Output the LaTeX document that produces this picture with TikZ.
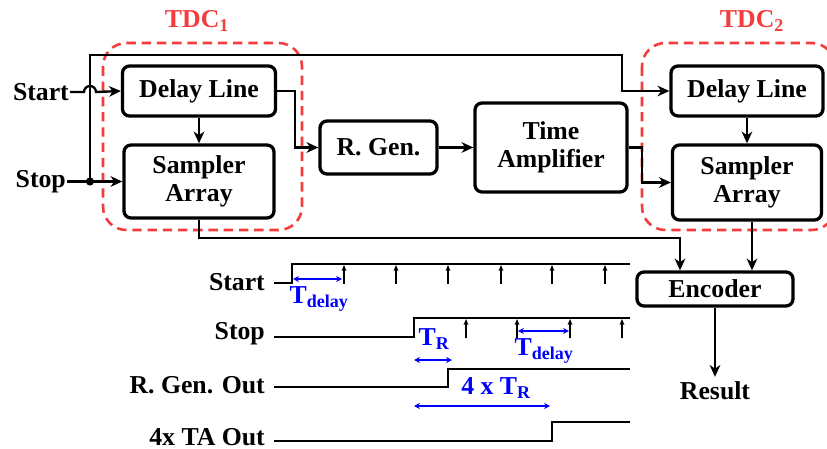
\documentclass[tikz,border=0pt]{standalone}
\usepackage{fontspec}
\setmainfont{Liberation Serif}
\usetikzlibrary{arrows.meta}
\definecolor{tdcred}{RGB}{245,60,60}
\begin{document}
\begin{tikzpicture}[x=0.03cm, y=-0.03cm, line width=2pt,
  >={Stealth[length=10pt,width=9pt,inset=3pt]},
  every node/.style={font=\fontsize{22}{24}\selectfont\bfseries},
  blk/.style={draw, line width=2.8pt, rounded corners=6pt, align=center, inner sep=0pt},
  tdcbox/.style={draw=tdcred, line width=2.2pt, dash pattern=on 8pt off 5pt, rounded corners=20pt},
  wave/.style={line width=1pt},
  tick/.style={line width=1pt, -{Stealth[length=5pt,width=4pt,inset=1pt]}},
  span/.style={blue, line width=1pt, {Stealth[length=5pt,width=5pt]}-{Stealth[length=5pt,width=5pt]}},
  blu/.style={text=blue, inner sep=0pt}]
\useasboundingbox (0,0) rectangle (827,449);
% TDC frames
\draw[tdcbox] (103,43) rectangle (302,230);
\draw[tdcbox] (642,43) rectangle (835,230);
\node[text=tdcred] (tdc1) at (197,21) {TDC\textsubscript{1}};
\node[text=tdcred] (tdc2) at (752,21) {TDC\textsubscript{2}};
% blocks
\node[blk,minimum width=4.59cm,minimum height=1.5cm] (dl1) at (199,91) {Delay Line};
\node[blk,minimum width=4.5cm,minimum height=2.19cm] (sa1) at (199,181.5) {Sampler\\Array};
\node[blk,minimum width=3.51cm,minimum height=1.59cm] (rgen) at (378.5,147.5) {R. Gen.};
\node[blk,minimum width=4.56cm,minimum height=2.67cm] (ta) at (551,147.5) {Time\\Amplifier};
\node[blk,minimum width=4.56cm,minimum height=1.5cm] (dl2) at (747,91) {Delay Line};
\node[blk,minimum width=4.47cm,minimum height=2.25cm] (sa2) at (747,182.5) {Sampler\\Array};
\node[blk,minimum width=4.68cm,minimum height=1.02cm] (enc) at (715,289) {Encoder};
\node (result) at (715,391) {Result};
\node[anchor=east,inner sep=0pt] (instart) at (70,92) {Start};
\node[anchor=east,inner sep=0pt] (instop) at (67,181.5) {Stop};
\coordinate (jn) at (90,181.5);
% connections
\draw[->] (instart.east) -- (84,92) arc[start angle=180,end angle=360,radius=6] -- (dl1.west);
\draw[->] (instop.east) -- (sa1.west);
\fill (jn) circle[radius=3.5pt];
\draw[->] (jn) -- (90,55) -- (622,55) |- (dl2.west);
\draw[->] (dl1.east) -- (295,91) |- (rgen.west);
\draw[->] (rgen) -- (ta);
\draw[->] (ta.east) -- (642,147.5) |- (sa2.west);
\draw[->] (dl1) -- (sa1);
\draw[->] (dl2) -- (sa2);
\draw[->] (sa1.south) -- (199,238) -| ([xshift=-1.05cm]enc.north);
\draw[->] ([xshift=0.15cm]sa2.south) -- ([xshift=0.15cm]sa2.south |- enc.north);
\draw[->] (enc) -- (result);
% timing diagram
\node[anchor=east,inner sep=0pt] (tstart) at (266,282) {Start};
\node[anchor=east,inner sep=0pt] (tstop) at (266,334) {Stop};
\node[anchor=east,inner sep=0pt] (trgen) at (266,385) {R. Gen. Out};
\node[anchor=east,inner sep=0pt] (tta) at (266,437) {4x TA Out};
\draw[wave] (274,283) -- (292,283) -- (292,264) -- (630,264);
\draw[wave] (274,337) -- (414,337) -- (414,318) -- (630,318);
\draw[wave] (274,387) -- (448,387) -- (448,369) -- (630,369);
\draw[wave] (274,441) -- (552,441) -- (552,422) -- (630,422);
\foreach \x in {344,396,448,501,552,605} \draw[tick] (\x,284) -- (\x,265);
\foreach \x in {466,517,570,622} \draw[tick] (\x,338) -- (\x,319);
\draw[span] (293,279) -- (342,279);
\draw[span] (518,331) -- (569,331);
\draw[span] (414,360) -- (452,360);
\draw[span] (414,406) -- (550,406);
\node[blu] (td1) at (319,299) {T\textsubscript{delay}};
\node[blu] (td2) at (544,351) {T\textsubscript{delay}};
\node[blu] (tr) at (434,339) {T\textsubscript{R}};
\node[blu] (tr4) at (496,388) {4 x T\textsubscript{R}};
\end{tikzpicture}
\end{document}
